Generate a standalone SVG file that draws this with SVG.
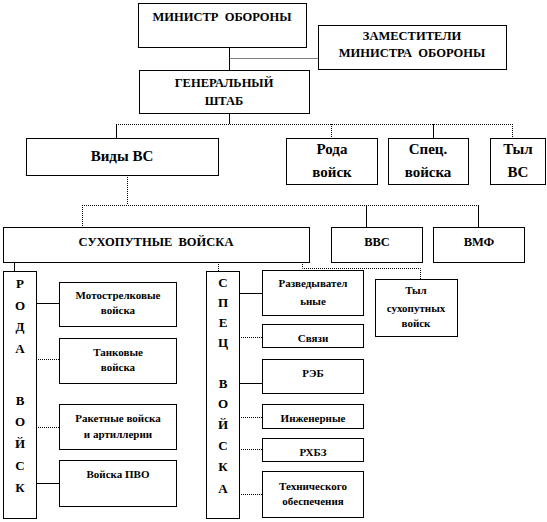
<svg xmlns="http://www.w3.org/2000/svg" width="547" height="522" viewBox="0 0 547 522">
<style>
.b{fill:#fff;stroke:#000;stroke-width:1}
text{font-family:'Liberation Serif','Times New Roman','DejaVu Serif',serif;font-weight:bold;fill:#000;text-anchor:middle}
.s12{font-size:12.5px}
.s11{font-size:11px}
.s15{font-size:15px}
.s13{font-size:13px}
.c{fill:none;stroke:#000;stroke-width:1}
.d{fill:none;stroke:#000;stroke-width:1;stroke-dasharray:1 1}
</style>
<rect width="547" height="522" fill="#fff"/>
<g id="connectors">
<path class="c" d="M229.5 47V70"/>
<path class="d" d="M229.5 58.5H318"/>
<path class="c" d="M229.5 114V124"/>
<path class="d" d="M116 124.5H512.5"/>
<path class="c" d="M116.5 124V138"/>
<path class="d" d="M331.5 124V138"/>
<path class="c" d="M433.5 124V138"/>
<path class="d" d="M512.5 124V138"/>
<path class="d" d="M127.5 175V205"/>
<path class="d" d="M82 205.5H478.5"/>
<path class="d" d="M82.5 205V227"/>
<path class="c" d="M366.5 205V227"/>
<path class="c" d="M478.5 205V227"/>
<path class="c" d="M14.5 262V271"/>
<path class="d" d="M218.5 262V271"/>
<path class="d" d="M302.5 262V268.5H420.5V279"/>
<path class="c" d="M36 303.5H59"/>
<path class="d" d="M36 359.5H59"/>
<path class="d" d="M36 427.5H59"/>
<path class="c" d="M36 483.5H59"/>
<path class="c" d="M239 293.5H262"/>
<path class="d" d="M239 337.5H262"/>
<path class="c" d="M239 383.5H262"/>
<path class="d" d="M239 417.5H262"/>
<path class="d" d="M239 449.5H262"/>
<path class="d" d="M239 494.5H262"/>
</g>
<g id="minister">
<rect class="b" x="138.5" y="3.5" width="168" height="44"/>
<text class="s12" x="222" y="21">МИНИСТР&#160; ОБОРОНЫ</text>
</g>
<g id="deputies">
<rect class="b" x="318.5" y="25.5" width="188" height="44"/>
<text class="s12" x="412" y="40">ЗАМЕСТИТЕЛИ</text>
<text class="s12" x="412" y="57">МИНИСТРА&#160; ОБОРОНЫ</text>
</g>
<g id="general-staff">
<rect class="b" x="139.5" y="70.5" width="170" height="43"/>
<text class="s12" x="224" y="87">ГЕНЕРАЛЬНЫЙ</text>
<text class="s12" x="224" y="105">ШТАБ</text>
</g>
<g id="vidy">
<rect class="b" x="26.5" y="138.5" width="192" height="37"/>
<text class="s15" x="122" y="161">Виды ВС</text>
</g>
<g id="roda">
<rect class="b" x="286.5" y="138.5" width="91" height="46"/>
<text class="s15" x="332" y="154">Рода</text>
<text class="s15" x="332" y="177">войск</text>
</g>
<g id="spec">
<rect class="b" x="388.5" y="138.5" width="80" height="46"/>
<text class="s15" x="428" y="154">Спец.</text>
<text class="s15" x="428" y="177">войска</text>
</g>
<g id="tyl">
<rect class="b" x="490.5" y="138.5" width="55" height="46"/>
<text class="s15" x="518" y="154">Тыл</text>
<text class="s15" x="518" y="177">ВС</text>
</g>
<g id="sv">
<rect class="b" x="3.5" y="227.5" width="306" height="35"/>
<text class="s12" x="156" y="246">СУХОПУТНЫЕ&#160; ВОЙСКА</text>
</g>
<g id="vvs">
<rect class="b" x="331.5" y="227.5" width="91" height="35"/>
<text class="s12" x="377" y="246">ВВС</text>
</g>
<g id="vmf">
<rect class="b" x="433.5" y="227.5" width="91" height="35"/>
<text class="s12" x="479" y="246">ВМФ</text>
</g>
<g id="roda-col">
<rect class="b" x="3.5" y="271.5" width="33" height="247"/>
<text class="s13" x="20" y="288">Р</text>
<text class="s13" x="20" y="310">О</text>
<text class="s13" x="20" y="331">Д</text>
<text class="s13" x="20" y="353">А</text>
<text class="s13" x="20" y="405">В</text>
<text class="s13" x="20" y="426">О</text>
<text class="s13" x="20" y="448">Й</text>
<text class="s13" x="20" y="470">С</text>
<text class="s13" x="20" y="492">К</text>
</g>
<g id="motostr">
<rect class="b" x="59.5" y="282.5" width="117" height="44"/>
<text class="s11" x="118" y="299">Мотострелковые</text>
<text class="s11" x="118" y="314">войска</text>
</g>
<g id="tank">
<rect class="b" x="59.5" y="338.5" width="117" height="45"/>
<text class="s11" x="118" y="356">Танковые</text>
<text class="s11" x="118" y="371">войска</text>
</g>
<g id="raket">
<rect class="b" x="59.5" y="404.5" width="117" height="45"/>
<text class="s11" x="118" y="422">Ракетные войска</text>
<text class="s11" x="118" y="438">и артиллерии</text>
</g>
<g id="pvo">
<rect class="b" x="59.5" y="460.5" width="117" height="46"/>
<text class="s11" x="118" y="478">Войска ПВО</text>
</g>
<g id="spec-col">
<rect class="b" x="206.5" y="271.5" width="33" height="247"/>
<text class="s13" x="223" y="287">С</text>
<text class="s13" x="223" y="307">П</text>
<text class="s13" x="223" y="327">Е</text>
<text class="s13" x="223" y="347">Ц</text>
<text class="s13" x="223" y="388">В</text>
<text class="s13" x="223" y="408">О</text>
<text class="s13" x="223" y="429">Й</text>
<text class="s13" x="223" y="450">С</text>
<text class="s13" x="223" y="471">К</text>
<text class="s13" x="223" y="493">А</text>
</g>
<g id="razved">
<rect class="b" x="262.5" y="270.5" width="101" height="45"/>
<text class="s11" x="313" y="287">Разведывател</text>
<text class="s11" x="313" y="305">ьные</text>
</g>
<g id="svyazi">
<rect class="b" x="262.5" y="324.5" width="101" height="23"/>
<text class="s11" x="313" y="342">Связи</text>
</g>
<g id="reb">
<rect class="b" x="262.5" y="359.5" width="101" height="34"/>
<text class="s11" x="313" y="377">РЭБ</text>
</g>
<g id="inzh">
<rect class="b" x="262.5" y="404.5" width="101" height="24"/>
<text class="s11" x="313" y="422">Инженерные</text>
</g>
<g id="rhbz">
<rect class="b" x="262.5" y="438.5" width="101" height="23"/>
<text class="s11" x="313" y="456">РХБЗ</text>
</g>
<g id="tech">
<rect class="b" x="262.5" y="471.5" width="101" height="46"/>
<text class="s11" x="313" y="490">Технического</text>
<text class="s11" x="313" y="505">обеспечения</text>
</g>
<g id="tyl-sv">
<rect class="b" x="375.5" y="279.5" width="82" height="57"/>
<text class="s11" x="416" y="294">Тыл</text>
<text class="s11" x="416" y="312">сухопутных</text>
<text class="s11" x="416" y="327">войск</text>
</g>
</svg>
